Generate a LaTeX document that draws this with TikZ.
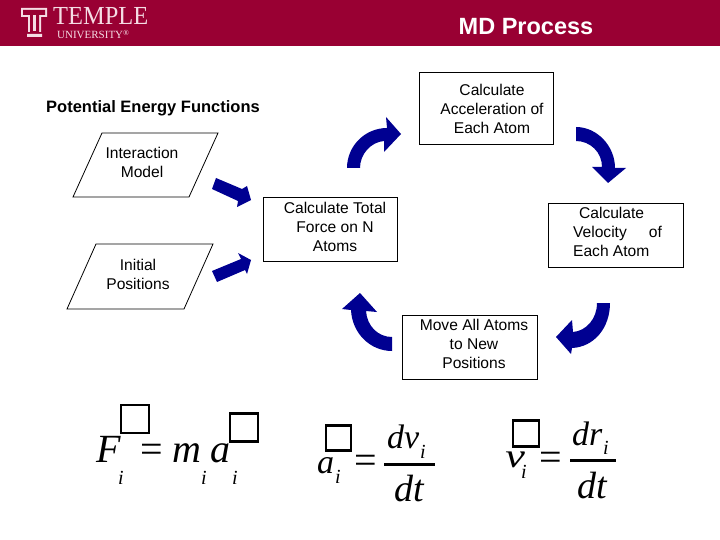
\documentclass[tikz,border=0pt]{standalone}
\usepackage{fontspec}
\setmainfont{Liberation Sans}
\newfontfamily\serifface{Liberation Serif}
\definecolor{templered}{RGB}{153,0,51}
\definecolor{logopink}{RGB}{245,220,228}
\definecolor{arrowblue}{RGB}{0,0,145}
\tikzset{
  procbox/.style={draw,line width=0.8pt,inner sep=0pt},
  proctext/.style={align=center,inner sep=0pt,font=\fontsize{15.6}{19}\selectfont},
  inputshape/.style={draw,line width=0.8pt,line join=miter},
  blockarrow/.style={fill=arrowblue},
  glyphbox/.style={draw,line width=2.6pt},
  mathbig/.style={anchor=base west,inner sep=0pt,font=\serifface\itshape\fontsize{40}{40}\selectfont},
  mathmid/.style={anchor=base west,inner sep=0pt,font=\serifface\itshape\fontsize{34}{34}\selectfont},
  mathtall/.style={anchor=base west,inner sep=0pt,font=\serifface\itshape\fontsize{38}{38}\selectfont},
  mathsub/.style={anchor=base west,inner sep=0pt,font=\serifface\itshape\fontsize{20}{20}\selectfont},
  mathrel/.style={anchor=base west,inner sep=0pt,font=\serifface\fontsize{40}{40}\selectfont},
  fracline/.style={line width=3pt}
}
\begin{document}
\begin{tikzpicture}[x=1pt,y=-1pt]
  \useasboundingbox (0,0) rectangle (720,540);
  \fill[templered] (0,0) rectangle (720,46);

  \fill[logopink] (21,8) rectangle (47,17) (28,17) rectangle (41,32) (27,34) rectangle (42,37);
  \fill[templered] (23,10) rectangle (45,15) (30,15) rectangle (39,32);
  \fill[logopink] (33,15) rectangle (36,31);
  \node[anchor=base west,inner sep=0pt,text=logopink,xscale=0.94,font=\serifface\fontsize{26}{26}\selectfont] (templename) at (53,25) {TEMPLE};
  \node[anchor=base west,inner sep=0pt,text=logopink,font=\serifface\fontsize{11}{11}\selectfont] (univname) at (57,39) {UNIVERSITY\textsuperscript{\textregistered}};

  \node[text=white,inner sep=0pt,font=\bfseries\fontsize{23.5}{26}\selectfont] (title) at (526,27) {MD Process};
  \node[inner sep=0pt,font=\bfseries\fontsize{16.5}{19}\selectfont] (potential) at (153,108) {Potential Energy Functions};

  \node[procbox,minimum width=134,minimum height=72] (accelbox) at (486,108) {};
  \node[procbox,minimum width=134,minimum height=64] (forcebox) at (330,229) {};
  \node[procbox,minimum width=135,minimum height=64] (velbox) at (615.5,235) {};
  \node[procbox,minimum width=135,minimum height=64] (movebox) at (469.5,347) {};

  \node[proctext] (acceltext) at (492,109) {Calculate\\Acceleration of\\Each Atom};
  \node[proctext] (forcetext) at (335,226.5) {Calculate Total\\Force on N\\Atoms};
  \node[proctext,align=left] (veltext) at (617.5,232) {\hspace*{6pt}Calculate\\Velocity\hspace{22pt}of\\Each Atom};
  \node[proctext] (movetext) at (474,344) {Move All Atoms\\to New\\Positions};

  \draw[inputshape] (102,133) -- (218,133) -- (189,197) -- (73,197) -- cycle;
  \draw[inputshape] (96,244) -- (213,244) -- (184,309) -- (67,309) -- cycle;
  \node[proctext] (interaction) at (142,162.5) {Interaction\\Model};
  \node[proctext] (initial) at (138,274.5) {Initial\\Positions};

  \fill[blockarrow] (216,178) -- (242,189) -- (247,186) -- (251,200) -- (237,207) -- (238,201) -- (212,189) -- cycle;
  \fill[blockarrow] (212,271) -- (241,259) -- (238,253) -- (251,260) -- (247,274) -- (245,270) -- (217,282) -- cycle;
  \fill[blockarrow] (347,168) .. controls (347,146) and (365,128) .. (387,128) -- (386,117) -- (401,134) -- (384,152) -- (384,141) .. controls (371,142) and (360,154) .. (360,168) -- cycle;
  \fill[blockarrow] (576,127) .. controls (597,127) and (615,146) .. (615,168) -- (626,168) -- (608,183) -- (592,167) -- (602,167) .. controls (602,152) and (590,141) .. (576,141) -- cycle;
  \fill[blockarrow] (610,303) .. controls (610,328) and (594,347) .. (572,348) -- (571,354) -- (556,337) -- (572,320) -- (573,332) .. controls (586,331) and (597,319) .. (597,303) -- cycle;
  \fill[blockarrow] (392,337) .. controls (378,337) and (367,326) .. (366,311) -- (377,312) -- (360,293) -- (342,309) -- (351,310) .. controls (352,333) and (370,351) .. (392,351) -- cycle;

  \node[mathbig] (force) at (96,462) {F};
  \node[mathsub] (forcei) at (118,484) {i};
  \node[mathrel] (eqone) at (140,462) {=};
  \node[mathbig] (mass) at (172,462) {m};
  \node[mathsub] (massi) at (201,484) {i};
  \node[mathbig] (accel) at (210,462) {a};
  \node[mathsub] (acceli) at (232,484) {i};
  \node[glyphbox,minimum size=28,inner sep=0pt] (boxf) at (135,419) {};
  \node[glyphbox,minimum size=28,inner sep=0pt] (boxa) at (244,427.5) {};

  \node[mathmid] (acc) at (317,473) {a};
  \node[mathsub] (acci) at (335,483) {i};
  \node[mathrel] (eqtwo) at (354,473) {=};
  \node[glyphbox,minimum size=25,inner sep=0pt] (boxb) at (338.5,438) {};
  \node[mathmid] (dv) at (387,448) {dv};
  \node[mathsub] (dvi) at (420,458) {i};
  \node[mathtall] (dta) at (394,501) {dt};
  \coordinate (fraconeleft) at (384,464);
  \coordinate (fraconeright) at (435,464);
  \draw[fracline] (fraconeleft) -- (fraconeright);

  \node[mathmid,xscale=1.3] (vel) at (505,467) {v};
  \node[mathsub] (veli) at (521,478) {i};
  \node[mathrel] (eqthree) at (539,470) {=};
  \node[glyphbox,minimum size=26,inner sep=0pt] (boxc) at (526,433.5) {};
  \node[mathmid] (dr) at (572,445) {dr};
  \node[mathsub] (dri) at (603,454) {i};
  \node[mathtall] (dtb) at (577,498) {dt};
  \coordinate (fractwoleft) at (570,460);
  \coordinate (fractworight) at (616,460);
  \draw[fracline] (fractwoleft) -- (fractworight);
\end{tikzpicture}
\end{document}
